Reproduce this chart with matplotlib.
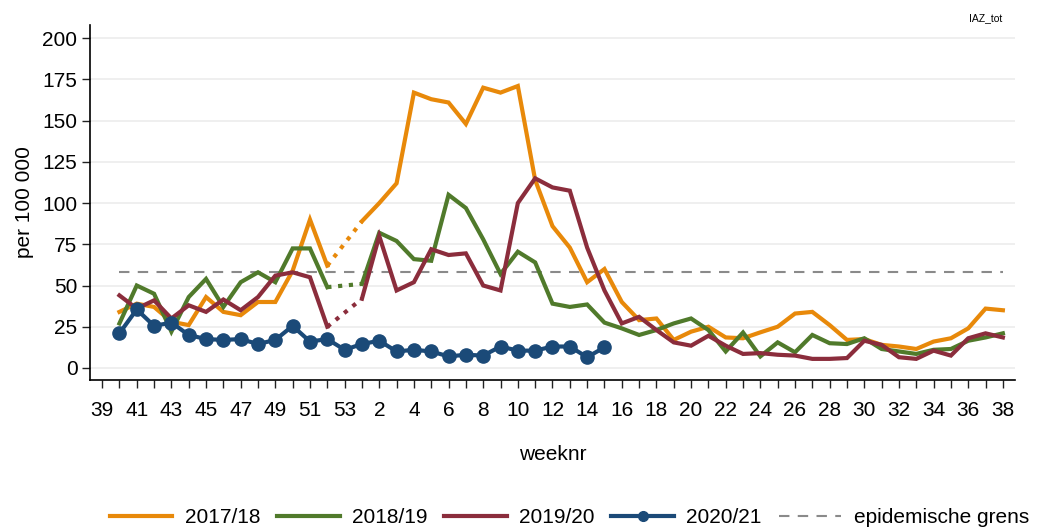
import numpy as np
import matplotlib
matplotlib.use("Agg")
import matplotlib.pyplot as plt
from matplotlib.lines import Line2D
from matplotlib import font_manager

# week axis: 39..53 then 1..38
weeks = list(range(39, 54)) + list(range(1, 39))
tick_weeks = [w for w in weeks if w % 2 == 1 and w >= 39] + [w for w in range(2, 39, 2)]

nan = np.nan
# values per 100 000, week 40 .. week 38 (week 53 missing for seasons without it)
s2017 = [34, 39, 37, 28, 26, 43, 34, 32, 40, 40, 59, 90, 62, nan,
         89, 100, 112, 167, 163, 161, 148, 170, 167, 171, 114, 86, 73, 52, 60, 40,
         29, 30, 17, 22, 25, 18.5, 18, 21.6, 25, 33, 34, 26, 17, 17.5, 14, 13,
         11.5, 16, 18, 24, 36, 35]
s2018 = [27, 50, 45, 22, 43, 54, 37, 52, 58, 52, 72.5, 72.5, 49, nan,
         51, 82, 77, 66, 65, 105, 97, 78, 57, 70.5, 64, 39, 37, 38.5, 27.5, 24,
         20, 23, 27, 30, 23, 10, 21.5, 7, 15.5, 9.5, 20, 15, 14.5, 18, 11.5, 10,
         8.5, 11, 11.5, 16.5, 18.5, 21]
s2019 = [44, 36, 41, 30, 38, 34, 41.5, 35, 43, 56, 58, 55, 25, nan,
         42, 80, 47, 52, 72, 68.5, 69.5, 50, 47, 100, 115, 109.5, 107.5, 73, 47, 27,
         31, 23, 15.5, 13.5, 19.5, 13.5, 8.5, 9, 8, 7.5, 5.5, 5.5, 6, 16.5, 14, 6.5,
         5.5, 10.5, 7.5, 18, 21, 18.5]
s2020 = [21, 35.5, 25.5, 27.5, 20, 17.5, 17, 17.5, 14.5, 17, 25.5, 16, 17.5, 11,
         14.5, 16.5, 10, 11, 10, 7, 8, 7.5, 13, 10.5, 10.5, 13, 13, 6.5, 12.5]
epi_threshold = 58

seasons = ["2017/18", "2018/19", "2019/20", "2020/21"]
colors = ["#E8890A", "#507A2B", "#8B2D3C", "#1B4A78"]

# font
avail = {f.name for f in font_manager.fontManager.ttflist}
fam = "Liberation Sans Narrow" if "Liberation Sans Narrow" in avail else "Liberation Sans"
plt.rcParams["font.family"] = [fam, "DejaVu Sans"]

fig = plt.figure(figsize=(10.39, 5.29), dpi=100)
ax = fig.add_axes([0.0866, 0.2817, 0.8903, 0.6710])

pos = np.arange(1, 53)  # week 40 is position 1
lw = 3.0
for vals, c in zip([s2017, s2018, s2019], colors[:3]):
    v = np.array(vals, dtype=float)
    ax.plot(pos, v, color=c, lw=lw, solid_joinstyle="miter", zorder=3)
    # dotted bridge over the missing week 53
    ax.plot([pos[12], pos[14]], [v[12], v[14]], color=c, lw=lw, ls=(0, (1, 1.6)), zorder=3)

pb = np.arange(1, 1 + len(s2020))
ax.plot(pb, s2020, color=colors[3], lw=lw, marker="o", ms=9.5, zorder=4)

ax.plot([1, 52], [epi_threshold, epi_threshold], color="#8a8a8a", lw=1.5, ls=(0, (5, 4)), zorder=2)

ax.set_xlim(-0.7, 52.7)
ax.set_ylim(-7.3, 208)
ax.set_yticks(range(0, 201, 25))
ax.yaxis.grid(True, color="#ececec", lw=1.2)
ax.set_axisbelow(True)
ax.set_xticks(range(len(weeks)))
ax.set_xticklabels([str(w) if w in tick_weeks else "" for w in weeks])
ax.tick_params(axis="both", labelsize=15, length=6, width=1, color="#222222")
ax.tick_params(axis="x", pad=9)
ax.tick_params(axis="y", pad=3)
for s in ["top", "right"]:
    ax.spines[s].set_visible(False)
for s in ["left", "bottom"]:
    ax.spines[s].set_linewidth(1.2)
ax.set_ylabel("per 100 000", fontsize=15, labelpad=6)
ax.set_xlabel("weeknr", fontsize=15, labelpad=18)

fig.text(0.965, 0.965, "IAZ_tot", fontsize=7.5, ha="right", va="center")

handles = [Line2D([], [], color=c, lw=lw) for c in colors[:3]]
handles.append(Line2D([], [], color=colors[3], lw=lw, marker="o", ms=7))
handles.append(Line2D([], [], color="#8a8a8a", lw=1.5, ls=(0, (5, 4))))
labels = seasons + ["epidemische grens"]
fig.legend(handles, labels, loc="center", bbox_to_anchor=(0.548, 0.022), ncol=5,
           frameon=False, fontsize=15, handlelength=3.0, handletextpad=0.6,
           columnspacing=0.8, borderaxespad=0)

fig.savefig("out.png", dpi=100)
